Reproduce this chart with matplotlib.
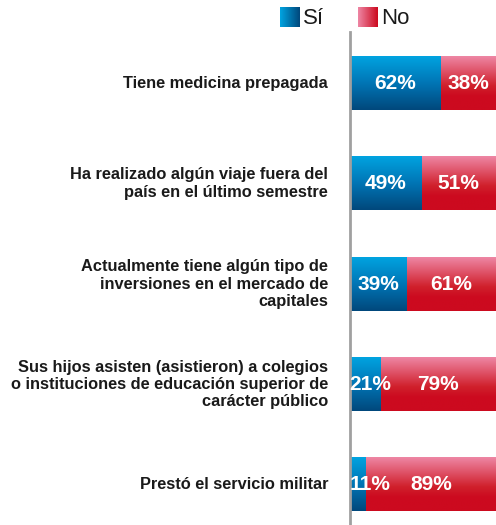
import numpy as np
import matplotlib
matplotlib.use("Agg")
import matplotlib.pyplot as plt
from matplotlib.colors import LinearSegmentedColormap

categories = [
    "Tiene medicina prepagada",
    "Ha realizado algún viaje fuera del\npaís en el último semestre",
    "Actualmente tiene algún tipo de\ninversiones en el mercado de\ncapitales",
    "Sus hijos asisten (asistieron) a colegios\no instituciones de educación superior de\ncarácter público",
    "Prestó el servicio militar",
]
si = [62, 49, 39, 21, 11]
no = [38, 51, 61, 79, 89]
series_names = ["Sí", "No"]

plt.rcParams["font.family"] = ["Liberation Sans", "DejaVu Sans"]

blue_cm = LinearSegmentedColormap.from_list("blue", ["#00a3e0", "#0075b5", "#00487c"])
red_cm = LinearSegmentedColormap.from_list(
    "red", [(0, "#ee86a4"), (0.55, "#d0202c"), (0.75, "#cc0a1f"), (1, "#cc0a1f")])
blue_leg = LinearSegmentedColormap.from_list("bl", ["#00a3e0", "#00487c"])
red_leg = LinearSegmentedColormap.from_list("rl", ["#ee86a4", "#cc0a1f"])

fig = plt.figure(figsize=(4.96, 5.25), dpi=100)
ax = fig.add_axes([350 / 496, 0, 146 / 496, 1 - 32 / 525])

y = np.arange(len(categories))
b1 = ax.barh(y, si, height=0.53, color="none")
b2 = ax.barh(y, no, left=si, height=0.53, color="none")

grad = np.linspace(0, 1, 100).reshape(-1, 1)


def fill_gradient(bars, cmap):
    for p in bars:
        x0, y0 = p.get_x(), p.get_y()
        w, h = p.get_width(), p.get_height()
        # y axis is inverted, so y0 is the top edge on screen
        ax.imshow(grad, cmap=cmap, aspect="auto", extent=(x0, x0 + w, y0 + h, y0),
                  interpolation="bilinear", zorder=1)


fill_gradient(b1, blue_cm)
fill_gradient(b2, red_cm)

for i in range(len(categories)):
    # small "Sí" values: keep the label from running off the left edge of the bar
    ax.text(max(si[i] / 2, 14), y[i], f"{si[i]}%", ha="center", va="center", color="white",
            fontsize=15, fontweight="bold", zorder=5, clip_on=False)
    ax.text(si[i] + no[i] / 2, y[i], f"{no[i]}%", ha="center", va="center", color="white",
            fontsize=15, fontweight="bold", zorder=5, clip_on=False)
    ax.text(-0.15, y[i], categories[i], transform=ax.get_yaxis_transform(), ha="right",
            va="center", fontsize=11.8, fontweight="bold", color="#1a1a1a",
            linespacing=1.2, clip_on=False)

ax.set_xlim(0, 100)
ax.set_ylim(4.4, -0.51)
ax.set_xticks([])
ax.set_yticks([])
for s in ["top", "right", "bottom"]:
    ax.spines[s].set_visible(False)
ax.spines["left"].set_color("#a0a0a0")
ax.spines["left"].set_linewidth(2)
ax.spines["left"].set_zorder(4)

# legend
for px, cmap, name in zip([280, 358], [blue_leg, red_leg], series_names):
    lax = fig.add_axes([px / 496, 1 - 27 / 525, 20 / 496, 20 / 525])
    lax.imshow(np.linspace(0, 1, 50).reshape(1, -1), cmap=cmap, aspect="auto",
               interpolation="bilinear")
    lax.axis("off")
    fig.text((px + 23) / 496, 1 - 18 / 525, name, ha="left", va="center",
             fontsize=16, color="#1a1a1a")

fig.savefig("out.png", dpi=100)
